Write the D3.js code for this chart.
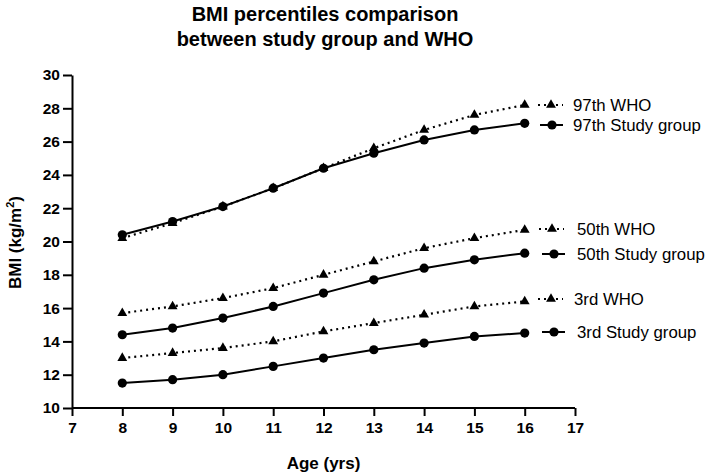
<!DOCTYPE html>
<html><head><meta charset="utf-8">
<script src="https://cdn.jsdelivr.net/npm/d3@7"></script>
<style>
body{margin:0;background:#fff;}
svg{font-family:"Liberation Sans",Arial,Helvetica,sans-serif;}
</style></head>
<body>
<svg id="c" width="709" height="473"></svg>
<script>
const ages = [8, 9, 10, 11, 12, 13, 14, 15, 16];
const who97 = [20.2, 21.1, 22.1, 23.2, 24.4, 25.6, 26.7, 27.6, 28.2];
const study97 = [20.4, 21.2, 22.1, 23.2, 24.4, 25.3, 26.1, 26.7, 27.1];
const who50 = [15.7, 16.1, 16.6, 17.2, 18.0, 18.8, 19.6, 20.2, 20.7];
const study50 = [14.4, 14.8, 15.4, 16.1, 16.9, 17.7, 18.4, 18.9, 19.3];
const who3 = [13.0, 13.3, 13.6, 14.0, 14.6, 15.1, 15.6, 16.1, 16.4];
const study3 = [11.5, 11.7, 12.0, 12.5, 13.0, 13.5, 13.9, 14.3, 14.5];
const xTicks = [7, 8, 9, 10, 11, 12, 13, 14, 15, 16, 17];
const yTicks = [10, 12, 14, 16, 18, 20, 22, 24, 26, 28, 30];
const seriesNames = ["97th WHO", "97th Study group", "50th WHO", "50th Study group", "3rd WHO", "3rd Study group"];
const seriesValues = [who97, study97, who50, study50, who3, study3];
const seriesType = ["who", "study", "who", "study", "who", "study"];

// legend layout (pixels)
const legendY = [105, 125, 229, 254, 299, 332];
const legendSymX = [551, 552, 552, 554, 551, 554];
const legendTextX = [573, 573, 577, 577, 574, 577];

const svg = d3.select("#c");
const x = d3.scaleLinear().domain([7, 17]).range([72, 575]);
const y = d3.scaleLinear().domain([10, 30]).range([408, 75]);

svg.append("text").attr("x", 325).attr("y", 21).attr("text-anchor", "middle")
  .attr("font-size", 20).attr("font-weight", "bold").text("BMI percentiles comparison");
svg.append("text").attr("x", 325).attr("y", 46).attr("text-anchor", "middle")
  .attr("font-size", 20).attr("font-weight", "bold").text("between study group and WHO");

// axes
const xAxis = svg.append("g").attr("transform", `translate(0,${y(10)})`)
  .call(d3.axisBottom(x).tickValues(xTicks).tickSize(8).tickPadding(6).tickSizeOuter(0));
const yAxis = svg.append("g").attr("transform", `translate(${x(7)},0)`)
  .call(d3.axisLeft(y).tickValues(yTicks).tickSize(9).tickPadding(3).tickSizeOuter(0));
[xAxis, yAxis].forEach(g => {
  g.selectAll("path").attr("stroke", "#000").attr("stroke-width", 2);
  g.selectAll("line").attr("stroke", "#000").attr("stroke-width", 2);
  g.selectAll("text").attr("font-size", 15.5).attr("font-weight", "bold").attr("fill", "#000");
});
xAxis.select("path").attr("d", `M${x(7)},0H${x(17)}`);

// axis titles
svg.append("text").attr("x", x(12)).attr("y", 469).attr("text-anchor", "middle")
  .attr("font-size", 17).attr("font-weight", "bold").text("Age (yrs)");
const yt = svg.append("text").attr("transform", `translate(21,${(y(10) + y(30)) / 2 + 1}) rotate(-90)`).attr("text-anchor", "middle")
  .attr("font-size", 17).attr("font-weight", "bold");
yt.append("tspan").text("BMI (kg/m");
yt.append("tspan").attr("font-size", 11).attr("dy", -7).text("2");
yt.append("tspan").attr("dy", 7).text(")");

const line = d3.line().x((d, i) => x(ages[i])).y(d => y(d));
const tri = d3.symbol().type(d3.symbolTriangle).size(42);

seriesValues.forEach((vals, k) => {
  const g = svg.append("g");
  const isWho = seriesType[k] === "who";
  g.append("path").datum(vals).attr("d", line).attr("fill", "none").attr("stroke", "#000")
    .attr("stroke-width", isWho ? 2.2 : 2)
    .attr("stroke-dasharray", isWho ? "2,4" : null);
  if (isWho) {
    g.selectAll("path.m").data(vals).enter().append("path").attr("class", "m")
      .attr("d", tri).attr("transform", (d, i) => `translate(${x(ages[i])},${y(d)})`).attr("fill", "#000");
  } else {
    g.selectAll("circle").data(vals).enter().append("circle")
      .attr("cx", (d, i) => x(ages[i])).attr("cy", d => y(d)).attr("r", 4.6).attr("fill", "#000");
  }
  const ly = legendY[k], lx = legendSymX[k];
  const lg = svg.append("g");
  if (isWho) {
    lg.append("line").attr("x1", lx - 13).attr("x2", lx + 12).attr("y1", ly).attr("y2", ly)
      .attr("stroke", "#000").attr("stroke-width", 2.2).attr("stroke-dasharray", "2,4");
    lg.append("path").attr("d", tri).attr("transform", `translate(${lx},${ly})`).attr("fill", "#000");
  } else {
    lg.append("line").attr("x1", lx - 12).attr("x2", lx + 11).attr("y1", ly).attr("y2", ly)
      .attr("stroke", "#000").attr("stroke-width", 2);
    lg.append("circle").attr("cx", lx).attr("cy", ly).attr("r", 4.6).attr("fill", "#000");
  }
  lg.append("text").attr("x", legendTextX[k]).attr("y", ly).attr("dy", "0.36em")
    .attr("font-size", 16.8).attr("fill", "#000").text(seriesNames[k]);
});
</script>
</body></html>
